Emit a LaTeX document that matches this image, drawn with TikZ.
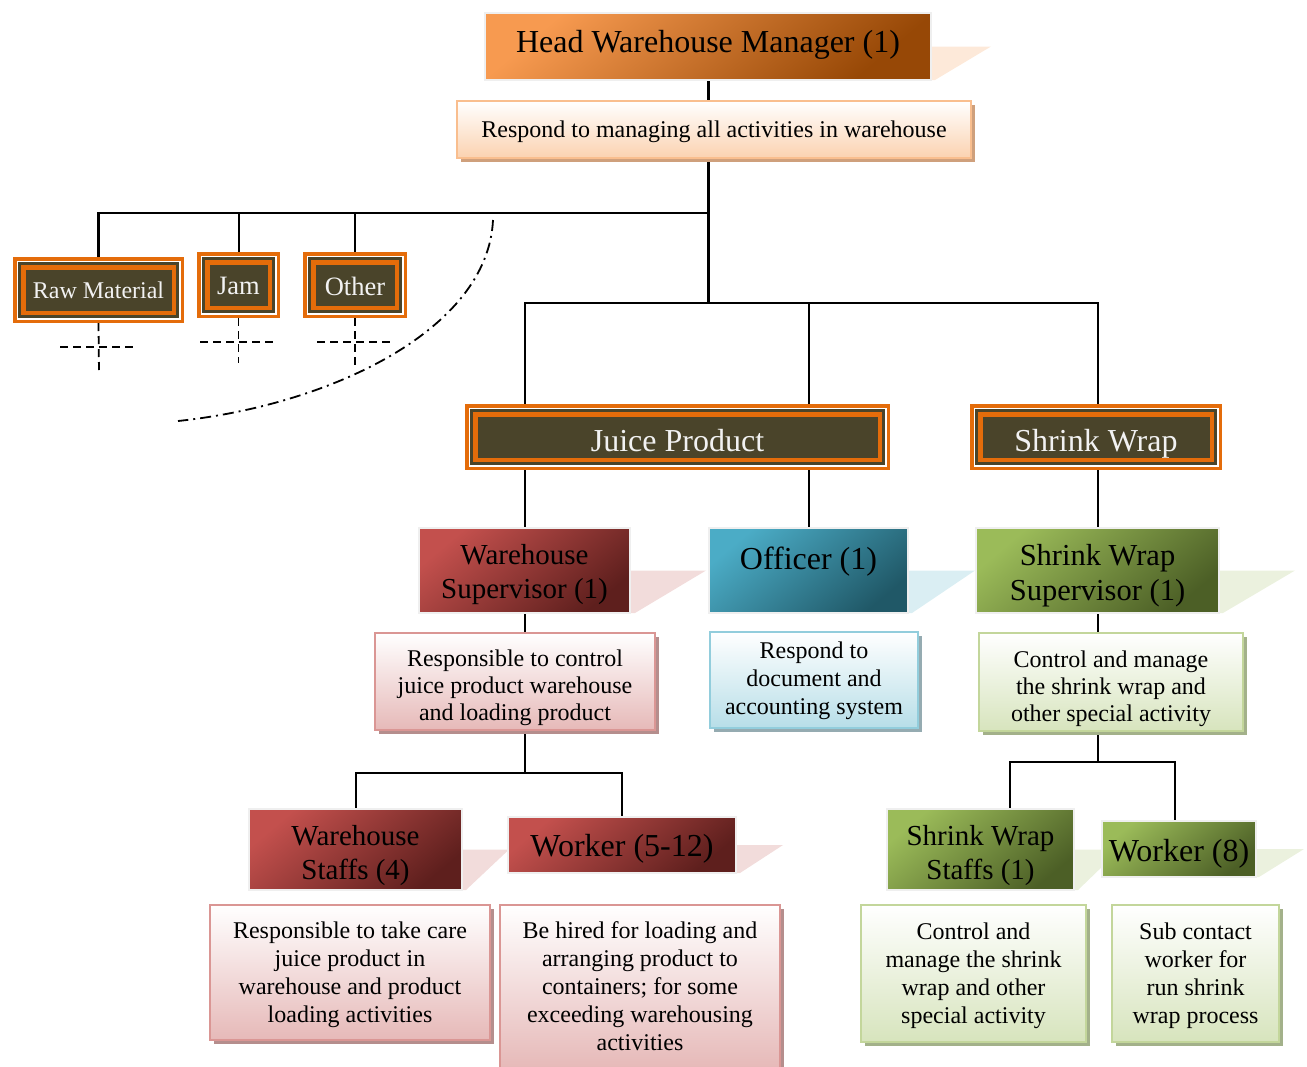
\documentclass[tikz,border=0pt]{standalone}
\usepackage{fontspec}
\setmainfont{Liberation Serif}
\usetikzlibrary{calc,backgrounds}

% palette
\definecolor{catorange}{HTML}{E46C0A}
\definecolor{catdark}{HTML}{4A442A}
\definecolor{cattext}{HTML}{F2F2F2}
\definecolor{rolerim}{HTML}{EFEFEF}
\definecolor{orA}{HTML}{F79A50}
\definecolor{orB}{HTML}{974806}
\definecolor{orD}{HTML}{FBD2B0}
\definecolor{orRim}{HTML}{F9BE8E}
\definecolor{orS}{HTML}{CFA07C}
\definecolor{orT}{HTML}{FDE9D9}
\definecolor{redA}{HTML}{C3504D}
\definecolor{redB}{HTML}{5E1F1D}
\definecolor{redD}{HTML}{E6B9B8}
\definecolor{redRim}{HTML}{DA9694}
\definecolor{redS}{HTML}{B58E8D}
\definecolor{redT}{HTML}{F2DCDB}
\definecolor{bluA}{HTML}{4BACC6}
\definecolor{bluB}{HTML}{205867}
\definecolor{bluD}{HTML}{B7DEE8}
\definecolor{bluRim}{HTML}{92CDDC}
\definecolor{bluS}{HTML}{95ABB1}
\definecolor{bluT}{HTML}{DAEEF3}
\definecolor{grnA}{HTML}{9BBB59}
\definecolor{grnB}{HTML}{4C5F26}
\definecolor{grnD}{HTML}{D7E4BD}
\definecolor{grnRim}{HTML}{C3D69B}
\definecolor{grnS}{HTML}{A3B18A}
\definecolor{grnT}{HTML}{EBF1DE}

\newcommand\setfs[2]{\fontsize{#1}{#2}\selectfont}
% move a label down (positive) or up (negative) without changing its box
\newcommand\drop[2]{\raisebox{-#1}[\height][\depth]{#2}}
% centred stack of lines, spaced by the current baselineskip
\newcommand\stack[1]{\begin{tabular}{@{}c@{}}#1\end{tabular}}

\tikzset{
  conn/.style={draw=black, line width=2pt},
  trunk/.style={draw=black, line width=3pt},
  crossdash/.style={draw=black, line width=1.8pt, dash pattern=on 8pt off 5pt},
  dashdotline/.style={draw=black, line width=1.8pt, dash pattern=on 11pt off 5pt on 2pt off 5pt},
  % framed category box: dark panel, orange/white/dark/orange rings
  catbox/.style={fill=catdark, draw=catorange, line width=4.5pt, outer sep=10.25pt,
    inner sep=0pt, text=cattext, align=center,
    preaction={draw=catorange, line width=20.5pt},
    preaction={draw=white, line width=13.5pt},
    preaction={draw=catdark, line width=10.5pt}},
  % shaded position box
  rolebox/.style={draw=rolerim, line width=2.5pt, inner sep=0pt, outer sep=0pt,
    align=center, text=black},
  orrole/.style={rolebox, top color=orA, bottom color=orB, shading angle=40},
  redrole/.style={rolebox, top color=redA, bottom color=redB, shading angle=40},
  blurole/.style={rolebox, top color=bluA, bottom color=bluB, shading angle=40},
  grnrole/.style={rolebox, top color=grnA, bottom color=grnB, shading angle=40},
  % duty box with drop shadow
  descbox/.style={line width=2pt, inner sep=0pt, outer sep=0pt, align=center, text=black,
    preaction={fill=#1, transform canvas={xshift=4pt, yshift=-4pt}}},
  ordesc/.style={descbox=orS, draw=orRim, top color=white, bottom color=orD},
  reddesc/.style={descbox=redS, draw=redRim, top color=white, bottom color=redD},
  bludesc/.style={descbox=bluS, draw=bluRim, top color=white, bottom color=bluD},
  grndesc/.style={descbox=grnS, draw=grnRim, top color=white, bottom color=grnD},
}

\begin{document}
\begin{tikzpicture}[x=1pt, y=-1pt]
\useasboundingbox (0,0) rectangle (1307,1066);

% ---------- top ----------
\node[orrole, minimum width=446pt, minimum height=67pt, font=\setfs{32}{36}] (head) at (708,46.5) {\drop{-2pt}{Head Warehouse Manager (1)}};
\node[ordesc, minimum width=514pt, minimum height=57pt, font=\setfs{24}{28}] (hdesc) at (714,129.5) {\drop{2pt}{Respond to managing all activities in warehouse}};

% ---------- categories ----------
\node[catbox, minimum width=150.5pt, minimum height=45.5pt, font=\setfs{24}{28}] (raw) at (98.5,290) {Raw Material};
\node[catbox, minimum width=62.5pt, minimum height=45.5pt, font=\setfs{26.5}{30}] (jam) at (238.5,285) {\drop{1pt}{Jam}};
\node[catbox, minimum width=83.5pt, minimum height=45.5pt, font=\setfs{26.5}{30}] (other) at (355,285) {\drop{1pt}{Other}};
\node[catbox, minimum width=404.5pt, minimum height=45.5pt, font=\setfs{32}{36}] (juice) at (677.5,437) {\drop{4pt}{Juice Product}};
\node[catbox, minimum width=231.5pt, minimum height=45.5pt, font=\setfs{32}{36}] (shrink) at (1096,437) {\drop{7pt}{Shrink Wrap}};

% ---------- second level ----------
\node[redrole, minimum width=211pt, minimum height=85pt, font=\setfs{29}{34}] (ws) at (524.5,570.5) {\drop{4pt}{\stack{Warehouse\\Supervisor (1)}}};
\node[blurole, minimum width=199pt, minimum height=85pt, font=\setfs{32}{36}] (officer) at (808.5,570.5) {\drop{-9pt}{Officer (1)}};
\node[grnrole, minimum width=243pt, minimum height=85pt, font=\setfs{30.5}{35}] (sws) at (1097.5,570.5) {\drop{5pt}{\stack{Shrink Wrap\\Supervisor (1)}}};

\node[reddesc, minimum width=280pt, minimum height=97pt, font=\setfs{24}{27}] (wsdesc) at (515,681.5) {\drop{7pt}{\stack{Responsible to control\\juice product warehouse\\and loading product}}};
\node[bludesc, minimum width=208pt, minimum height=96pt, font=\setfs{24}{28}] (ofdesc) at (814,680) {\drop{1pt}{\stack{Respond to\\document and\\accounting system}}};
\node[grndesc, minimum width=264pt, minimum height=98pt, font=\setfs{24}{27}] (swdesc) at (1111,682) {\drop{7pt}{\stack{Control and manage\\the shrink wrap and\\other special activity}}};

% ---------- third level ----------
\node[redrole, minimum width=213pt, minimum height=81pt, font=\setfs{29}{34}] (wstaff) at (355.5,849.5) {\drop{6pt}{\stack{Warehouse\\Staffs (4)}}};
\node[redrole, minimum width=228pt, minimum height=56pt, font=\setfs{32}{36}] (worker) at (622,845) {\drop{4pt}{Worker (5-12)}};
\node[grnrole, minimum width=187pt, minimum height=81pt, font=\setfs{29}{34}] (swstaff) at (980.5,849.5) {\drop{6pt}{\stack{Shrink Wrap\\Staffs (1)}}};
\node[grnrole, minimum width=154pt, minimum height=56pt, font=\setfs{32}{36}] (worker8) at (1179,849) {\drop{5pt}{Worker (8)}};

\node[reddesc, minimum width=280pt, minimum height=135pt, font=\setfs{24}{28}] (wstaffdesc) at (350,972.5) {\drop{2pt}{\stack{Responsible to take care\\juice product in\\warehouse and product\\loading activities}}};
\node[reddesc, minimum width=280pt, minimum height=164pt, font=\setfs{24}{28}] (workerdesc) at (640,987) {\drop{2pt}{\stack{Be hired for loading and\\arranging product to\\containers; for some\\exceeding warehousing\\activities}}};
\node[grndesc, minimum width=225pt, minimum height=137pt, font=\setfs{24}{28}] (swstaffdesc) at (973.5,973.5) {\drop{2pt}{\stack{Control and\\manage the shrink\\wrap and other\\special activity}}};
\node[grndesc, minimum width=167pt, minimum height=137pt, font=\setfs{24}{28}] (w8desc) at (1195.5,973.5) {\drop{2pt}{\stack{Sub contact\\worker for\\run shrink\\wrap process}}};

% ---------- junctions and loose ends ----------
\coordinate (lbar) at (708,213);
\coordinate (rbar) at (708,303);
\coordinate (wbar) at (524.5,773);
\coordinate (sbar) at (1097.5,762);
\coordinate (rawend) at (99,373);
\coordinate (rawl) at (60,347);
\coordinate (rawr) at (134,347);
\coordinate (jamend) at (238.5,363);
\coordinate (jaml) at (200,342);
\coordinate (jamr) at (274,342);
\coordinate (othend) at (355,366);
\coordinate (othl) at (317,342);
\coordinate (othr) at (391,342);
\coordinate (arcA) at (493,220);
\coordinate (arcB) at (178,421);

\begin{scope}[on background layer]
  % perspective shadows of the position boxes
  \fill[orT]  (head.east)    -- ++(60,0) -- ([xshift=4pt]head.south east)    -- (head.south east)    -- cycle;
  \fill[redT] (ws.east)      -- ++(76,0) -- ([xshift=5pt]ws.south east)      -- (ws.south east)      -- cycle;
  \fill[bluT] (officer.east) -- ++(67,0) -- ([xshift=4pt]officer.south east) -- (officer.south east) -- cycle;
  \fill[grnT] (sws.east)     -- ++(76,0) -- ([xshift=4pt]sws.south east)     -- (sws.south east)     -- cycle;
  \fill[redT] (wstaff.east)  -- ++(47,0) -- ([xshift=4pt]wstaff.south east)  -- (wstaff.south east)  -- cycle;
  \fill[redT] (worker.east)  -- ++(47,0) -- ([xshift=4pt]worker.south east)  -- (worker.south east)  -- cycle;
  \fill[grnT] (swstaff.east) -- ++(46,0) -- ([xshift=4pt]swstaff.south east) -- (swstaff.south east) -- cycle;
  \fill[grnT] (worker8.east) -- ++(48,0) -- ([xshift=3pt]worker8.south east) -- (worker8.south east) -- cycle;

  % trunk
  \draw[trunk] (head.south) -- (head.south |- hdesc.north);
  \draw[trunk] (hdesc.south -| head.south) -- (rbar);
  % left branch
  \draw[conn, line width=2.5pt] (lbar) -| (raw.north);
  \draw[conn] (lbar -| jam.north) -- (jam.north);
  \draw[conn] (lbar -| other.north) -- (other.north);
  % right branch
  \draw[conn] (rbar) -| (ws.north);
  \draw[conn] (rbar) -| (officer.north);
  \draw[conn] (rbar) -| (sws.north);
  % juice product line
  \draw[conn] (ws.south) -- (ws.south |- wsdesc.north);
  \draw[conn] (wsdesc.south -| ws.south) -- (wbar);
  \draw[conn] (wbar) -| (wstaff.north);
  \draw[conn] (wbar) -| (worker.north);
  % shrink wrap line
  \draw[conn] (sws.south) -- (sws.south |- swdesc.north);
  \draw[conn] (swdesc.south -| sws.south) -- (sbar);
  \draw[conn] (sbar) -| ([xshift=29.5pt]swstaff.north);
  \draw[conn] (sbar) -| ([xshift=-4pt]worker8.north);

  % open ends below the categories
  \draw[crossdash] (raw.south) -- (rawend);
  \draw[crossdash] (rawl) -- (rawr);
  \draw[crossdash] (jam.south) -- (jamend);
  \draw[crossdash] (jaml) -- (jamr);
  \draw[crossdash] (other.south) -- (othend);
  \draw[crossdash] (othl) -- (othr);

  % boundary of the category group
  \draw[dashdotline] (arcA) .. controls (488,330) and (330,405) .. (arcB);
\end{scope}
\end{tikzpicture}
\end{document}
